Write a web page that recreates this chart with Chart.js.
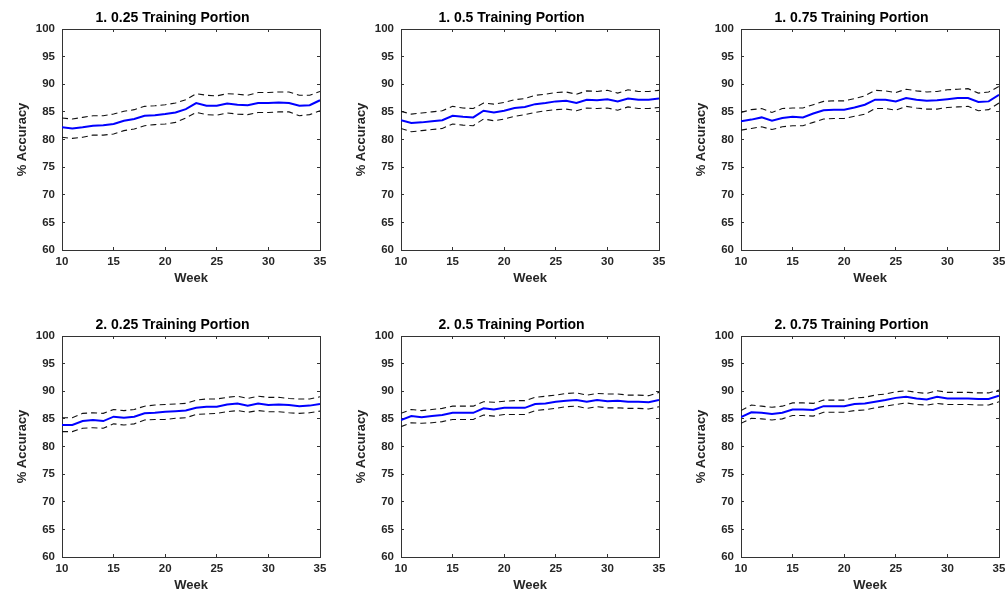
<!DOCTYPE html>
<html>
<head>
<meta charset="utf-8">
<script src="https://cdn.jsdelivr.net/npm/chart.js@4"></script>
<style>
    html, body { margin: 0; padding: 0; background: #fff; overflow: hidden; }
    .panel { position: absolute; }
</style>
</head>
<body>
<div class="panel" style="left:0px;top:0px"><canvas id="c1" width="345" height="290"></canvas></div>
<div class="panel" style="left:339px;top:0px"><canvas id="c2" width="345" height="290"></canvas></div>
<div class="panel" style="left:679px;top:0px"><canvas id="c3" width="345" height="290"></canvas></div>
<div class="panel" style="left:0px;top:307px"><canvas id="c4" width="345" height="290"></canvas></div>
<div class="panel" style="left:339px;top:307px"><canvas id="c5" width="345" height="290"></canvas></div>
<div class="panel" style="left:679px;top:307px"><canvas id="c6" width="345" height="290"></canvas></div>
<script>
// 주차 (x축)
const weeks = [10, 11, 12, 13, 14, 15, 16, 17, 18, 19, 20, 21, 22, 23, 24, 25, 26, 27, 28, 29, 30, 31, 32, 33, 34, 35];
const xTicks = [10, 15, 20, 25, 30, 35];
const yTicks = [60, 65, 70, 75, 80, 85, 90, 95, 100];

const titles = ["1. 0.25 Training Portion", "1. 0.5 Training Portion", "1. 0.75 Training Portion",
                "2. 0.25 Training Portion", "2. 0.5 Training Portion", "2. 0.75 Training Portion"];

// 1. 0.25
const mean1 = [82.2, 82.0, 82.2, 82.5, 82.6, 82.8, 83.4, 83.7, 84.3, 84.4, 84.6, 84.9, 85.5, 86.6, 86.1, 86.1, 86.5, 86.3, 86.2, 86.6, 86.6, 86.7, 86.6, 86.1, 86.2, 87.1];
const upper1 = [83.9, 83.7, 84.0, 84.3, 84.3, 84.6, 85.1, 85.4, 86.0, 86.1, 86.3, 86.6, 87.2, 88.3, 88.0, 87.9, 88.3, 88.2, 88.0, 88.5, 88.5, 88.6, 88.6, 88.0, 88.0, 88.7];
const lower1 = [80.4, 80.2, 80.4, 80.8, 80.8, 81.0, 81.6, 81.9, 82.5, 82.7, 82.8, 83.1, 83.9, 84.9, 84.5, 84.4, 84.8, 84.6, 84.5, 84.9, 84.9, 85.0, 85.0, 84.3, 84.5, 85.2];

// 1. 0.5
const mean2 = [83.5, 83.0, 83.1, 83.3, 83.5, 84.3, 84.1, 84.0, 85.2, 84.9, 85.2, 85.7, 85.9, 86.4, 86.6, 86.9, 87.0, 86.6, 87.2, 87.1, 87.3, 86.9, 87.4, 87.2, 87.2, 87.4];
const upper2 = [85.1, 84.6, 84.8, 85.0, 85.2, 86.0, 85.7, 85.6, 86.6, 86.4, 86.7, 87.2, 87.4, 88.0, 88.2, 88.5, 88.6, 88.2, 88.8, 88.7, 88.9, 88.4, 89.0, 88.7, 88.7, 88.9];
const lower2 = [82.0, 81.4, 81.6, 81.8, 82.0, 82.8, 82.6, 82.5, 83.7, 83.4, 83.7, 84.2, 84.5, 84.9, 85.2, 85.4, 85.5, 85.2, 85.7, 85.6, 85.7, 85.3, 85.9, 85.6, 85.6, 85.8];

// 1. 0.75
const mean3 = [83.3, 83.6, 84.0, 83.4, 83.9, 84.1, 84.0, 84.7, 85.3, 85.4, 85.4, 85.8, 86.3, 87.2, 87.2, 86.9, 87.5, 87.2, 87.0, 87.1, 87.3, 87.5, 87.5, 86.8, 86.9, 88.1];
const upper3 = [84.9, 85.4, 85.6, 84.9, 85.6, 85.7, 85.7, 86.3, 86.9, 87.0, 87.0, 87.4, 87.9, 88.9, 88.8, 88.5, 89.1, 88.8, 88.6, 88.7, 89.0, 89.1, 89.2, 88.4, 88.6, 89.6];
const lower3 = [81.7, 82.0, 82.3, 81.8, 82.3, 82.5, 82.5, 83.1, 83.7, 83.8, 83.8, 84.2, 84.6, 85.6, 85.6, 85.3, 86.0, 85.7, 85.5, 85.5, 85.8, 85.9, 86.0, 85.2, 85.4, 86.6];

// 2. 0.25
const mean4 = [83.9, 83.9, 84.6, 84.8, 84.6, 85.4, 85.2, 85.4, 86.0, 86.1, 86.3, 86.4, 86.5, 87.0, 87.2, 87.2, 87.6, 87.8, 87.4, 87.8, 87.5, 87.6, 87.5, 87.3, 87.4, 87.7];
const upper4 = [85.2, 85.2, 86.0, 86.1, 86.0, 86.7, 86.5, 86.7, 87.3, 87.5, 87.6, 87.7, 87.8, 88.4, 88.6, 88.6, 88.9, 89.1, 88.7, 89.1, 88.9, 88.9, 88.7, 88.6, 88.6, 89.0];
const lower4 = [82.7, 82.7, 83.3, 83.4, 83.3, 84.1, 83.9, 84.1, 84.8, 84.9, 84.9, 85.1, 85.2, 85.8, 85.9, 86.0, 86.3, 86.5, 86.2, 86.5, 86.3, 86.3, 86.1, 86.0, 86.1, 86.4];

// 2. 0.5
const mean5 = [84.8, 85.5, 85.3, 85.5, 85.7, 86.1, 86.1, 86.1, 86.9, 86.7, 87.0, 87.0, 87.0, 87.7, 87.8, 88.1, 88.3, 88.4, 88.1, 88.4, 88.2, 88.3, 88.1, 88.1, 88.0, 88.4];
const upper5 = [86.0, 86.7, 86.5, 86.7, 86.9, 87.3, 87.3, 87.3, 88.1, 88.0, 88.2, 88.3, 88.3, 88.9, 89.1, 89.3, 89.6, 89.7, 89.3, 89.6, 89.5, 89.5, 89.3, 89.3, 89.2, 89.8];
const lower5 = [83.6, 84.3, 84.2, 84.3, 84.5, 84.9, 84.9, 84.9, 85.7, 85.5, 85.8, 85.8, 85.8, 86.5, 86.7, 86.9, 87.2, 87.3, 86.9, 87.2, 87.0, 87.0, 86.9, 86.9, 86.8, 87.2];

// 2. 0.75
const mean6 = [85.3, 86.2, 86.1, 85.9, 86.1, 86.7, 86.7, 86.6, 87.3, 87.3, 87.3, 87.7, 87.8, 88.1, 88.4, 88.8, 89.0, 88.7, 88.5, 89.0, 88.7, 88.7, 88.7, 88.6, 88.6, 89.2];
const upper6 = [86.5, 87.5, 87.3, 87.1, 87.3, 87.9, 87.9, 87.8, 88.4, 88.4, 88.4, 88.8, 88.9, 89.3, 89.5, 89.9, 90.1, 89.8, 89.6, 90.1, 89.8, 89.8, 89.8, 89.7, 89.7, 90.2];
const lower6 = [84.2, 85.1, 85.0, 84.8, 85.0, 85.6, 85.6, 85.5, 86.2, 86.2, 86.2, 86.5, 86.6, 87.0, 87.3, 87.6, 87.9, 87.6, 87.5, 87.8, 87.6, 87.6, 87.6, 87.5, 87.5, 88.1];

const panels = [
    [mean1, upper1, lower1], [mean2, upper2, lower2], [mean3, upper3, lower3],
    [mean4, upper4, lower4], [mean5, upper5, lower5], [mean6, upper6, lower6]
];

const FONT = "'Liberation Sans', Arial, Helvetica, sans-serif";
const AXIS = '#333333';

function toPoints(values) {
    return weeks.map((w, i) => ({ x: w, y: values[i] }));
}

function dashed(values) {
    return {
        data: toPoints(values),
        borderColor: '#111111',
        borderWidth: 1.1,
        borderDash: [6, 4],
        pointRadius: 0,
        fill: false
    };
}

// 안쪽으로 향하는 눈금 (MATLAB 스타일)
function innerGrid() {
    return {
        drawOnChartArea: false,
        drawTicks: true,
        tickLength: -3,
        tickColor: AXIS,
        tickWidth: 1
    };
}

function makeChart(id, title, series) {
    const [mean, upper, lower] = series;
    new Chart(document.getElementById(id), {
        type: 'line',
        data: {
            datasets: [
                dashed(upper),
                dashed(lower),
                {
                    data: toPoints(mean),
                    borderColor: '#0000ff',
                    borderWidth: 2,
                    pointRadius: 0,
                    fill: false
                }
            ]
        },
        options: {
            responsive: false,
            animation: false,
            layout: { padding: 0 },
            plugins: {
                legend: { display: false },
                tooltip: { enabled: false },
                title: {
                    display: true,
                    text: title,
                    color: '#000',
                    font: { family: FONT, size: 14, weight: 'bold', lineHeight: 1.2 },
                    padding: { top: 9.3, bottom: 2.9 }
                }
            },
            scales: {
                x: {
                    type: 'linear',
                    position: 'bottom',
                    min: 10, max: 35,
                    afterBuildTicks: s => { s.ticks = xTicks.map(v => ({ value: v })); },
                    afterFit: s => { s.height = 40; },
                    grid: innerGrid(),
                    border: { display: true, color: AXIS, width: 1 },
                    ticks: { color: '#262626', padding: 8, maxRotation: 0,
                             font: { family: FONT, size: 11.5, weight: 'bold' } },
                    title: { display: true, text: 'Week', color: '#262626',
                             font: { family: FONT, size: 13, weight: 'bold' },
                             padding: { top: 0, bottom: 3.5 } }
                },
                x2: {
                    type: 'linear',
                    position: 'top',
                    min: 10, max: 35,
                    afterBuildTicks: s => { s.ticks = xTicks.map(v => ({ value: v })); },
                    afterFit: s => { s.height = 0; },
                    grid: innerGrid(),
                    border: { display: true, color: AXIS, width: 1 },
                    ticks: { display: false }
                },
                y: {
                    min: 60, max: 100,
                    afterBuildTicks: s => { s.ticks = yTicks.map(v => ({ value: v })); },
                    afterFit: s => { s.width = 62; },
                    grid: innerGrid(),
                    border: { display: true, color: AXIS, width: 1 },
                    ticks: { color: '#262626', padding: 10,
                             font: { family: FONT, size: 11.5, weight: 'bold' } },
                    title: { display: true, text: '% Accuracy', color: '#262626',
                             font: { family: FONT, size: 13, weight: 'bold' },
                             padding: { top: 15, bottom: 0 } }
                },
                y2: {
                    position: 'right',
                    min: 60, max: 100,
                    afterBuildTicks: s => { s.ticks = yTicks.map(v => ({ value: v })); },
                    afterFit: s => { s.width = 25; },
                    grid: innerGrid(),
                    border: { display: true, color: AXIS, width: 1 },
                    ticks: { display: false }
                }
            }
        }
    });
}

panels.forEach((series, i) => makeChart('c' + (i + 1), titles[i], series));
</script>
</body>
</html>
